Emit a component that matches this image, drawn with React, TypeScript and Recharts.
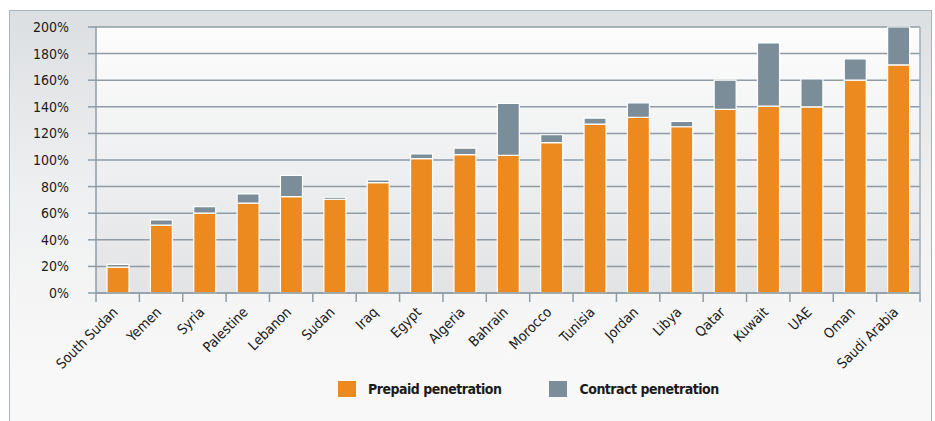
import { BarChart, Bar, XAxis, YAxis, CartesianGrid } from 'recharts';

const countries = [
  'South Sudan', 'Yemen', 'Syria', 'Palestine', 'Lebanon', 'Sudan', 'Iraq', 'Egypt', 'Algeria', 'Bahrain',
  'Morocco', 'Tunisia', 'Jordan', 'Libya', 'Qatar', 'Kuwait', 'UAE', 'Oman', 'Saudi Arabia',
];
const prepaid = [19.5, 51, 60, 67.5, 72.5, 70.5, 83, 101, 104, 103.5, 113, 127, 132, 125, 138, 140.5, 140, 160, 171.5];
const contract = [2, 4, 5, 7, 16, 1.5, 2, 3.5, 5, 39, 6, 4.5, 11, 4, 22, 47.5, 21, 16, 28.5];
const yTicks = [0, 20, 40, 60, 80, 100, 120, 140, 160, 180, 200];

const data = countries.map((name, i) => ({ name, prepaid: prepaid[i], contract: contract[i] }));

const ORANGE = '#ed8a1f';
const SLATE = '#7a8d99';
const GRID = '#8f9ca6';
const FONT = "'Liberation Sans Narrow', 'DejaVu Sans Condensed', 'Open Sans', sans-serif";

const W = 935;
const H = 421;
const PLOT_LEFT = 96;
const PLOT_RIGHT = 920;
const BAND = (PLOT_RIGHT - PLOT_LEFT) / countries.length;

// category labels sit under the band, tick marks go on band edges
function CountryTick(props: any) {
  const { x, y, payload, index } = props;
  const last = index === countries.length - 1;
  return (
    <g transform={`translate(${x},${y})`}>
      <line x1={-BAND / 2} x2={-BAND / 2} y1={0} y2={9} stroke={GRID} strokeWidth={1.5} />
      {last && <line x1={BAND / 2} x2={BAND / 2} y1={0} y2={9} stroke={GRID} strokeWidth={1.5} />}
      <text
        x={1}
        y={20}
        transform="rotate(-45 1 20)"
        textAnchor="end"
        style={{ fontFamily: FONT, fontSize: 14, fill: '#1b1b1b' }}
      >
        {payload.value}
      </text>
    </g>
  );
}

function LegendKey({ color, label }: { color: string; label: string }) {
  return (
    <div style={{ display: 'flex', alignItems: 'center' }}>
      <div style={{ width: 18, height: 16, background: color, marginRight: 12 }} />
      <span style={{ fontFamily: FONT, fontWeight: 700, fontSize: 14, letterSpacing: -0.5, color: '#1b1b1b' }}>
        {label}
      </span>
    </div>
  );
}

export default function App() {
  return (
    <div style={{ position: 'absolute', left: 0, top: 0, width: W, height: H, overflow: 'hidden', background: '#fff' }}>
      <div
        style={{
          position: 'absolute',
          left: 9,
          top: 10,
          width: 921,
          height: 420,
          border: '1.5px solid #a9b5bd',
          background: 'linear-gradient(#dcdfe2, #eff0f1 45%, #f8f8f8 85%)',
        }}
      />
      <div style={{ position: 'absolute', left: 0, top: 0 }}>
        <BarChart
          width={W}
          height={H}
          data={data}
          margin={{ top: 27, right: 0, bottom: 0, left: 0 }}
          barSize={22}
        >
          <defs>
            <linearGradient id="plotBg" x1="0" y1="0" x2="0" y2="1">
              <stop offset="0%" stopColor="#fdfdfd" />
              <stop offset="100%" stopColor="#e1e3e5" />
            </linearGradient>
          </defs>
          <CartesianGrid vertical={false} stroke={GRID} strokeWidth={1.5} fill="url(#plotBg)" fillOpacity={1} />
          <XAxis
            dataKey="name"
            interval={0}
            height={128}
            tickSize={0}
            tickMargin={0}
            tickLine={false}
            axisLine={{ stroke: GRID, strokeWidth: 1.5 }}
            tick={(p: any) => <CountryTick {...p} />}
          />
          <YAxis
            width={PLOT_LEFT}
            domain={[0, 200]}
            ticks={yTicks}
            interval={0}
            tickFormatter={(v: number) => `${v}%`}
            tickSize={8}
            tickMargin={19}
            tickLine={{ stroke: GRID, strokeWidth: 1.5 }}
            axisLine={{ stroke: GRID, strokeWidth: 1.5 }}
            tick={{ fontFamily: FONT, fontSize: 14, fill: '#1b1b1b' }}
          />
          <YAxis
            yAxisId="frame"
            orientation="right"
            width={W - PLOT_RIGHT}
            domain={[0, 200]}
            tick={false}
            tickLine={false}
            axisLine={{ stroke: '#a3aeb6', strokeWidth: 1.5 }}
          />
          <Bar dataKey="prepaid" stackId="pen" fill={ORANGE} stroke="#ffffff" strokeWidth={1.2} isAnimationActive={false} />
          <Bar dataKey="contract" stackId="pen" fill={SLATE} stroke="#ffffff" strokeWidth={1.2} isAnimationActive={false} />
        </BarChart>
      </div>
      <div style={{ position: 'absolute', left: 338, top: 381, display: 'flex', gap: 48 }}>
        <LegendKey color={ORANGE} label="Prepaid penetration" />
        <LegendKey color={SLATE} label="Contract penetration" />
      </div>
    </div>
  );
}
